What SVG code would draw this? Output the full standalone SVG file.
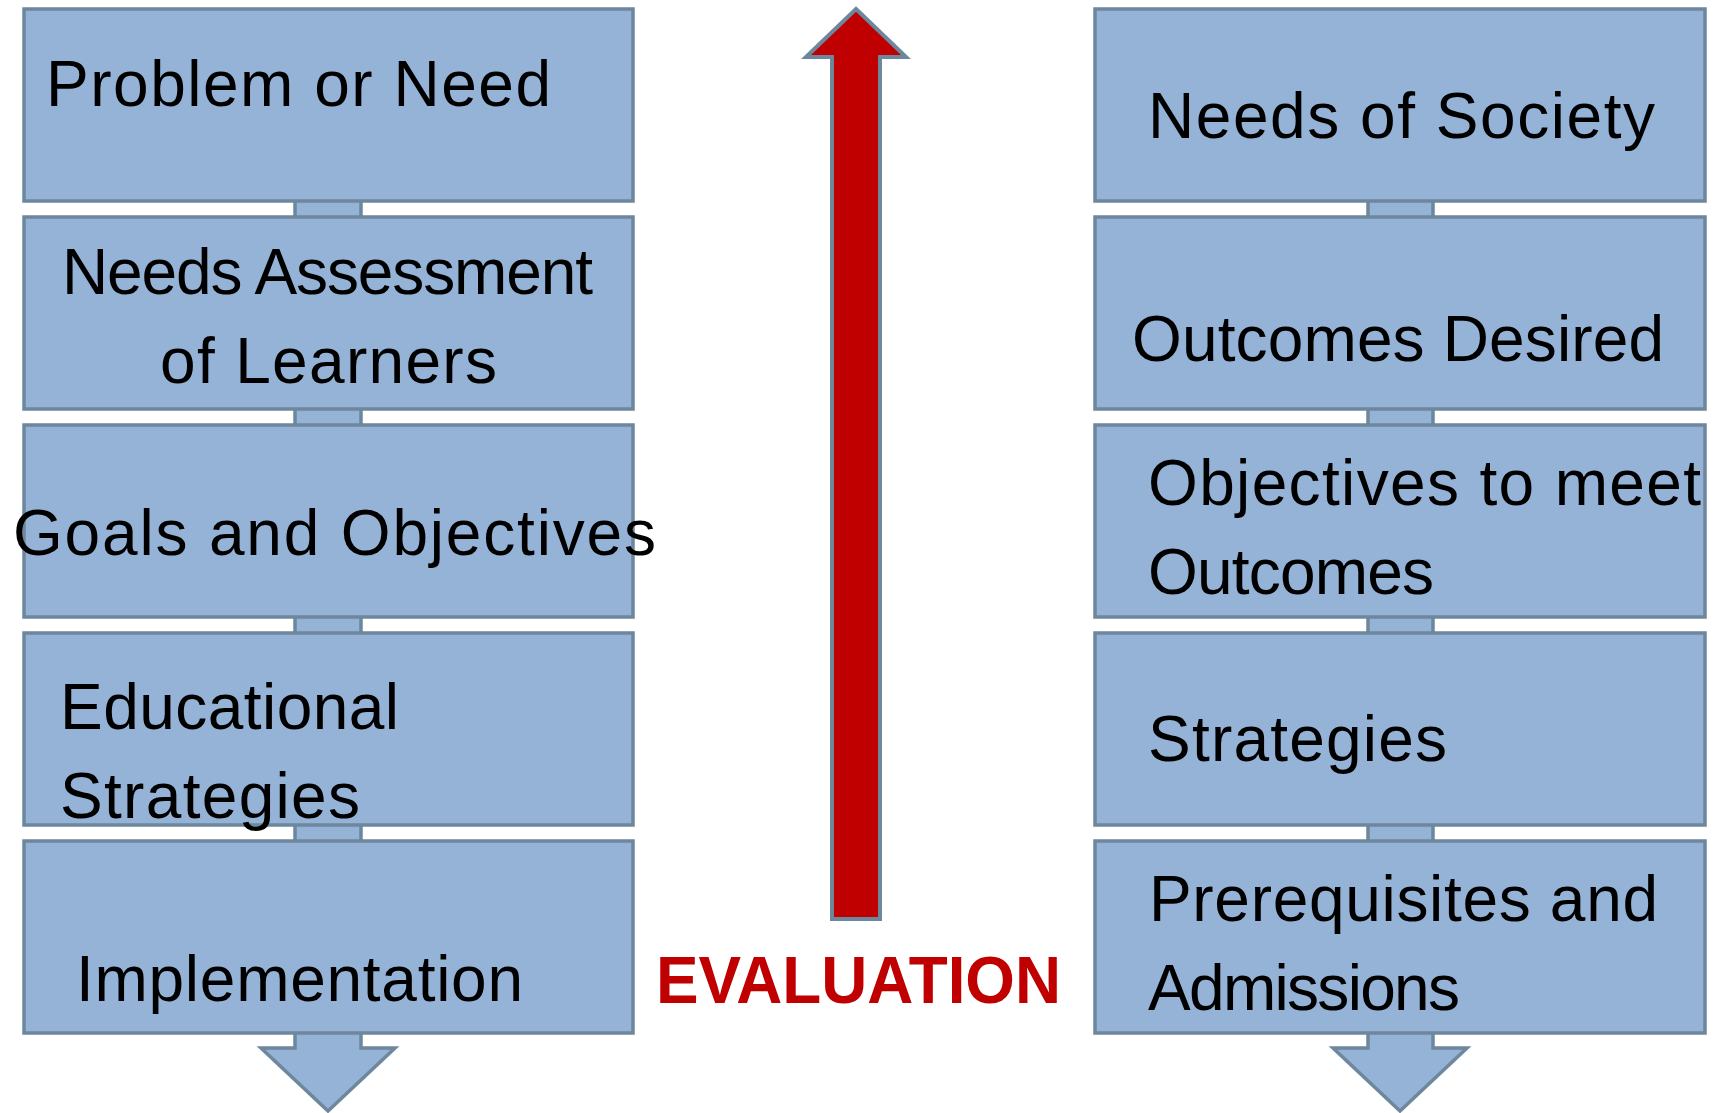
<svg xmlns="http://www.w3.org/2000/svg" width="1719" height="1113" viewBox="0 0 1719 1113">
  <style>
    .box { fill: #95B3D7; stroke: #6D879D; stroke-width: 3.5; }
    .link { fill: #95B3D7; stroke: #6D879D; stroke-width: 3.5; }
    .label { font-family: "Liberation Sans", Arial, sans-serif; font-size: 64px; fill: #000; }
    .eval { font-family: "Liberation Sans", Arial, sans-serif; font-weight: bold; font-size: 67px; fill: #C00000; }
    .up { fill: #C00000; stroke: #6D879D; stroke-width: 4; stroke-linejoin: miter; }
  </style>
  <rect width="1719" height="1113" fill="#ffffff"/>

  <!-- connectors: short stubs between stacked boxes and the down arrows at the bottom -->
  <g id="connectors">
    <rect class="link" x="295" y="199" width="66" height="20"/>
    <rect class="link" x="295" y="407" width="66" height="20"/>
    <rect class="link" x="295" y="615" width="66" height="20"/>
    <rect class="link" x="295" y="822" width="66" height="20"/>
    <polygon class="link" points="295,1031 361,1031 361,1048 395,1048 328,1111 261,1048 295,1048"/>

    <rect class="link" x="1368" y="199" width="65" height="20"/>
    <rect class="link" x="1368" y="407" width="65" height="20"/>
    <rect class="link" x="1368" y="615" width="65" height="20"/>
    <rect class="link" x="1368" y="822" width="65" height="20"/>
    <polygon class="link" points="1368,1031 1433,1031 1433,1048 1467,1048 1400,1111 1333,1048 1368,1048"/>

    <!-- upward evaluation arrow -->
    <polygon class="up" points="856,9 906,57 880,57 880,919 832,919 832,57 806,57"/>
  </g>

  <!-- left column -->
  <g id="problem-or-need">
    <rect class="box" x="24" y="9" width="609" height="192"/>
    <text class="label" x="46" y="106" textLength="505">Problem or Need</text>
  </g>
  <g id="needs-assessment">
    <rect class="box" x="24" y="217" width="609" height="192"/>
    <text class="label" x="62" y="294" textLength="531">Needs Assessment</text>
    <text class="label" x="160" y="383" textLength="337">of Learners</text>
  </g>
  <g id="goals-objectives">
    <rect class="box" x="24" y="425" width="609" height="192"/>
    <text class="label" x="13" y="555" textLength="643">Goals and Objectives</text>
  </g>
  <g id="educational-strategies">
    <rect class="box" x="24" y="633" width="609" height="192"/>
    <text class="label" x="60" y="729" textLength="339">Educational</text>
    <text class="label" x="60" y="818" textLength="300">Strategies</text>
  </g>
  <g id="implementation">
    <rect class="box" x="24" y="841" width="609" height="192"/>
    <text class="label" x="76" y="1001" textLength="447">Implementation</text>
  </g>

  <!-- centre label -->
  <g id="evaluation">
    <text class="eval" x="656" y="1003" textLength="405" lengthAdjust="spacingAndGlyphs">EVALUATION</text>
  </g>

  <!-- right column -->
  <g id="needs-of-society">
    <rect class="box" x="1095" y="9" width="610" height="192"/>
    <text class="label" x="1148" y="138" textLength="507">Needs of Society</text>
  </g>
  <g id="outcomes-desired">
    <rect class="box" x="1095" y="217" width="610" height="192"/>
    <text class="label" x="1132" y="361" textLength="532">Outcomes Desired</text>
  </g>
  <g id="objectives-outcomes">
    <rect class="box" x="1095" y="425" width="610" height="192"/>
    <text class="label" x="1148" y="505" textLength="553">Objectives to meet</text>
    <text class="label" x="1148" y="594" textLength="286">Outcomes</text>
  </g>
  <g id="strategies">
    <rect class="box" x="1095" y="633" width="610" height="192"/>
    <text class="label" x="1148" y="761" textLength="299">Strategies</text>
  </g>
  <g id="prerequisites-admissions">
    <rect class="box" x="1095" y="841" width="610" height="192"/>
    <text class="label" x="1149" y="921" textLength="509">Prerequisites and</text>
    <text class="label" x="1148" y="1010" textLength="312">Admissions</text>
  </g>
</svg>
